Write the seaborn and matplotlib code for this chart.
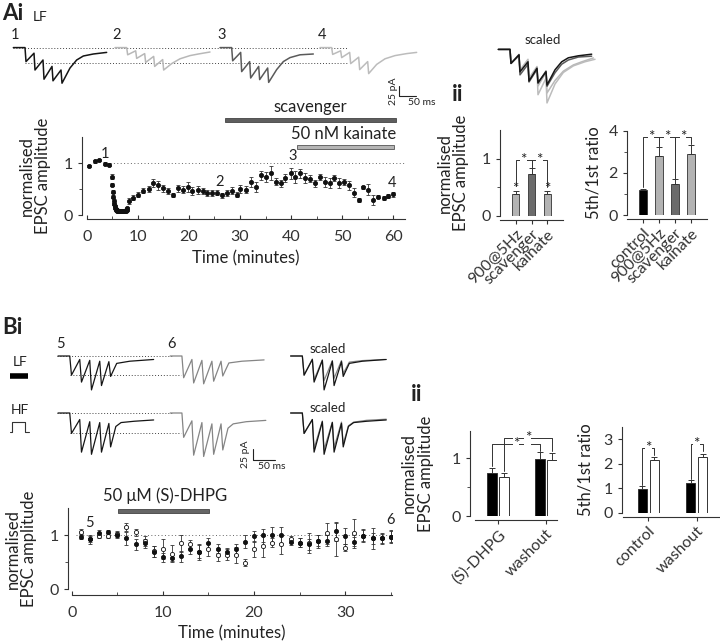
import numpy as np
import pandas as pd
import matplotlib
matplotlib.use('Agg')
import matplotlib.pyplot as plt
from matplotlib.patches import Rectangle
import seaborn as sns

# ---------------- data ----------------
# Ai time course (normalised EPSC amplitude)
base_t = [0.5, 1.6, 2.5, 3.5, 4.4]
base_v = [0.95, 1.03, 1.06, 0.99, 0.97]
base_e = [0.02, 0.03, 0.02, 0.03, 0.03]
stim_t = [4.9, 5.0, 5.1, 5.2, 5.3, 5.4, 5.5, 5.6, 5.7, 5.8, 5.9, 6.0, 6.1, 6.2, 6.3, 6.4,
          6.5, 6.6, 6.7, 6.8, 6.9, 7.0, 7.1, 7.2, 7.3, 7.4, 7.5, 7.6, 7.7, 7.8, 7.9]
stim_v = [0.74, 0.58, 0.45, 0.35, 0.27, 0.22, 0.17, 0.14, 0.12, 0.10, 0.09, 0.08, 0.08, 0.07, 0.07, 0.07,
          0.07, 0.07, 0.07, 0.07, 0.07, 0.07, 0.07, 0.07, 0.07, 0.07, 0.08, 0.08, 0.09, 0.10, 0.13]
stim_e = [0.04, 0.03, 0.03, 0.03, 0.03, 0.02, 0.02, 0.02, 0.02, 0.02, 0.02, 0.02, 0.02, 0.02, 0.02, 0.02,
          0.02, 0.02, 0.02, 0.02, 0.02, 0.02, 0.02, 0.02, 0.02, 0.02, 0.02, 0.02, 0.02, 0.03, 0.03]
post_t = [8.2, 9.1, 10.1, 11.1, 12.1, 13.0, 14.0, 15.0, 16.0, 16.8,
          17.8, 18.8, 19.8, 20.7, 21.7, 22.7, 23.6, 24.6, 25.6, 26.4,
          27.4, 28.4, 29.4, 30.1, 31.1, 32.1, 33.1, 34.1, 35.0, 36.0,
          37.0, 38.0, 38.9, 39.9, 40.8, 41.7, 42.7, 43.7, 44.7, 45.7,
          46.6, 47.6, 48.5, 49.4, 50.4, 51.4, 52.3, 53.3, 54.1, 55.1,
          56.1, 57.1, 58.1, 59.0, 60.0]
post_v = [0.27, 0.33, 0.39, 0.47, 0.50, 0.61, 0.57, 0.51, 0.46, 0.38,
          0.51, 0.49, 0.54, 0.46, 0.48, 0.46, 0.43, 0.43, 0.43, 0.38,
          0.43, 0.47, 0.39, 0.50, 0.49, 0.64, 0.54, 0.76, 0.73, 0.81,
          0.64, 0.61, 0.71, 0.80, 0.73, 0.80, 0.71, 0.70, 0.61, 0.73,
          0.64, 0.61, 0.71, 0.61, 0.64, 0.57, 0.43, 0.29, 0.53, 0.49,
          0.29, 0.35, 0.32, 0.36, 0.40]
post_e = [0.05, 0.05, 0.05, 0.05, 0.05, 0.08, 0.08, 0.07, 0.05, 0.04,
          0.07, 0.06, 0.10, 0.08, 0.08, 0.06, 0.06, 0.06, 0.05, 0.05,
          0.06, 0.06, 0.05, 0.07, 0.07, 0.10, 0.10, 0.09, 0.10, 0.13,
          0.07, 0.07, 0.07, 0.10, 0.12, 0.08, 0.10, 0.07, 0.07, 0.06,
          0.10, 0.10, 0.06, 0.10, 0.06, 0.08, 0.08, 0.04, 0.03, 0.10,
          0.10, 0.03, 0.04, 0.04, 0.05]
scavenger_min = (27.0, 60.5)
kainate_min = (41.1, 60.2)
trace_marks_A = ['1', '2', '3', '4']
trace_marks_A_t = [3.6, 26.1, 40.4, 59.7]
trace_marks_A_v = [1.18, 0.64, 1.13, 0.61]

# Aii bar charts
amp_cats = ['900@5Hz', 'scavenger', 'kainate']
amp_mean = [0.38, 0.73, 0.39]
amp_sem = [0.05, 0.10, 0.04]
ratio_cats = ['control', '900@5Hz', 'scavenger', 'kainate']
ratio_mean = [1.2, 2.8, 1.5, 2.9]
ratio_sem = [0.06, 0.45, 0.20, 0.45]

# Bi time course, LF (filled) and HF (open)
b_t = list(range(1, 36))
lf_v = [0.97, 0.92, 1.04, 1.06, 1.00, 0.94, 0.83, 0.85, 0.69, 0.59,
        0.58, 0.61, 0.74, 0.69, 0.85, 0.75, 0.69, 0.74, 0.88, 0.98,
        1.00, 1.01, 1.00, 0.88, 0.86, 0.83, 0.89, 0.90, 1.07, 0.98,
        0.87, 0.99, 0.94, 0.94, 0.97]
lf_e = [0.05, 0.08, 0.05, 0.04, 0.06, 0.12, 0.10, 0.08, 0.10, 0.08,
        0.06, 0.10, 0.08, 0.12, 0.10, 0.08, 0.07, 0.10, 0.12, 0.10,
        0.12, 0.14, 0.15, 0.06, 0.08, 0.10, 0.12, 0.10, 0.18, 0.15,
        0.10, 0.12, 0.20, 0.08, 0.12]
hf_v = [1.06, 0.93, 0.99, 0.99, 1.02, 1.15, 1.05, 0.89, 0.70, 0.74,
        0.66, 0.85, 0.83, 0.69, 0.74, 0.63, 0.64, 0.63, 0.49, 0.74,
        0.79, 0.86, 0.83, 0.93, 0.86, 0.85, 0.90, 1.03, 0.92, 0.77,
        1.04, 0.99, 0.94, 0.94, 0.97]
hf_e = [0.05, 0.06, 0.04, 0.05, 0.06, 0.08, 0.06, 0.10, 0.10, 0.18,
        0.15, 0.16, 0.08, 0.15, 0.12, 0.10, 0.10, 0.15, 0.06, 0.15,
        0.20, 0.08, 0.18, 0.05, 0.08, 0.18, 0.10, 0.20, 0.30, 0.07,
        0.25, 0.10, 0.10, 0.10, 0.10]
dhpg_min = (5.1, 15.1)

# Bii bar charts
b_amp_cond = ['(S)-DHPG', '(S)-DHPG', 'washout', 'washout']
b_amp_stim = ['LF', 'HF', 'LF', 'HF']
b_amp_mean = [0.75, 0.67, 0.98, 0.96]
b_amp_sem = [0.08, 0.07, 0.12, 0.13]
b_ratio_cond = ['control', 'control', 'washout', 'washout']
b_ratio_stim = ['LF', 'HF', 'LF', 'HF']
b_ratio_mean = [0.98, 2.15, 1.22, 2.28]
b_ratio_sem = [0.10, 0.13, 0.12, 0.13]

# sample EPSC trains (ms, pA); each: peaks, pre-pulse levels, tail
pulse_ms_A = [35, 62, 89, 116, 143]
tr1_peak = [-35, -56, -79, -83, -89]
tr1_pre = [-14, -31, -47, -56]
tr1_tail_ms = [170, 190, 210, 240, 280]
tr1_tail_pA = [-51, -31, -21, -16, -12]
tr2_peak = [-18, -27, -37, -47, -56]
tr2_pre = [-8, -15, -22, -30]
tr2_tail_ms = [170, 195, 225, 250, 285]
tr2_tail_pA = [-40, -28, -20, -16, -11]
tr3_peak = [-33, -60, -76, -80, -87]
tr3_pre = [-12, -35, -47, -51]
tr3_tail_ms = [170, 190, 210, 240, 280]
tr3_tail_pA = [-55, -35, -25, -18, -16]
tr4_peak = [-17, -25, -40, -55, -65]
tr4_pre = [-8, -12, -24, -35]
tr4_tail_ms = [170, 195, 225, 260, 290]
tr4_tail_pA = [-42, -28, -20, -15, -12]

pulse_ms_B = [27, 50, 73, 96, 117]
lf5_peak = [-44, -60, -78, -68, -47]
lf5_pre = [-8, -10, -12, -13]
lf5_tail_ms = [135, 165, 220]
lf5_tail_pA = [-17, -12, -8]
lf6_peak = [-50, -62, -64, -58, -46]
lf6_pre = [-8, -10, -12, -12]
lf6_tail_ms = [135, 165, 216]
lf6_tail_pA = [-16, -12, -9]
hf5_peak = [-47, -90, -95, -90, -78]
hf5_pre = [-15, -20, -22, -24]
hf5_tail_ms = [133, 145, 175, 220]
hf5_tail_pA = [-31, -22, -19, -16]
hf6_peak = [-56, -97, -100, -95, -85]
hf6_pre = [-18, -22, -25, -25]
hf6_tail_ms = [133, 145, 175, 220]
hf6_tail_pA = [-35, -25, -20, -17]

# ---------------- style ----------------
sns.set_style('ticks')
plt.rcParams['font.family'] = ['Lato', 'DejaVu Sans']
plt.rcParams['axes.linewidth'] = 0.8
plt.rcParams['axes.edgecolor'] = '#333333'
plt.rcParams['xtick.major.width'] = 0.8
plt.rcParams['ytick.major.width'] = 0.8
plt.rcParams['xtick.color'] = '#333333'
plt.rcParams['ytick.color'] = '#333333'
plt.rcParams['text.color'] = '#222222'
plt.rcParams['axes.labelcolor'] = '#222222'

LAB = 12      # axis label size
TICK = 11.5   # tick label size

W, H = 720, 643
fig = plt.figure(figsize=(7.2, 6.43), dpi=100)


def px_axes(left, top, right, bottom):
    return fig.add_axes([left / W, 1 - bottom / H, (right - left) / W, (bottom - top) / H])


def px_text(x, y, s, **kw):
    fig.text(x / W, 1 - y / H, s, **kw)


def build_trace(pulses, peaks, pre, tail_ms, tail_pA, rise):
    xs, ys = [0, pulses[0]], [0, 0]
    for i, p in enumerate(pulses):
        xs.append(p + rise)
        ys.append(peaks[i])
        if i < len(pulses) - 1:
            xs.append(pulses[i + 1])
            ys.append(pre[i])
    return np.array(xs + tail_ms, float), np.array(ys + tail_pA, float)


def draw_timecourse(ax, t, v, e, face):
    ax.errorbar(t, v, yerr=e, fmt='none', ecolor='#333333', elinewidth=0.6,
                capsize=1.5, capthick=0.6, zorder=2)
    sns.scatterplot(x=t, y=v, ax=ax, marker='o', s=9, color=face,
                    edgecolor='#111111', linewidth=0.6, zorder=3, legend=False)


def bracket(ax, x1, y1, x2, y2, top):
    ax.plot([x1, x1, x2, x2], [y1, top, top, y2], color='#333333', lw=0.7, clip_on=False)
    ax.text((x1 + x2) / 2, top, '*', ha='center', va='center', fontsize=11,
            bbox=dict(fc='white', ec='none', pad=0.2), clip_on=False)


def upper_err(ax, xs, means, sems):
    ax.errorbar(xs, means, yerr=[np.zeros(len(sems)), sems], fmt='none',
                ecolor='#333333', elinewidth=0.7, capsize=2.2, capthick=0.7, zorder=3)


def style_ts(ax):
    ax.tick_params(axis='x', direction='in', length=3, labelsize=TICK, pad=8)
    ax.tick_params(axis='x', which='minor', direction='in', length=2)
    ax.tick_params(axis='y', length=3, labelsize=TICK)
    ax.tick_params(axis='y', which='minor', length=2)
    ax.set_xlabel('Time (minutes)', fontsize=LAB, labelpad=4)
    ax.set_ylabel('normalised\nEPSC amplitude', fontsize=LAB, labelpad=9, linespacing=1.05)


def style_bars(ax):
    ax.tick_params(axis='y', length=3, labelsize=TICK)
    ax.tick_params(axis='y', which='minor', length=2)
    ax.tick_params(axis='x', length=3, labelsize=TICK, pad=2)
    plt.setp(ax.get_xticklabels(), rotation=45, ha='right', rotation_mode='anchor')


# ---------------- Ai traces ----------------
ax_tr = px_axes(0, 30, 440, 110)
ax_tr.set_xlim(-40, 1280)
ax_tr.set_ylim(-156, 44)
ax_tr.axis('off')
offsets_A = [0, 305, 620, 920]
traces_A = [
    (tr1_peak, tr1_pre, tr1_tail_ms, tr1_tail_pA, '#151515'),
    (tr2_peak, tr2_pre, tr2_tail_ms, tr2_tail_pA, '#b8b8b8'),
    (tr3_peak, tr3_pre, tr3_tail_ms, tr3_tail_pA, '#5a5a5a'),
    (tr4_peak, tr4_pre, tr4_tail_ms, tr4_tail_pA, '#bcbcbc'),
]
ax_tr.plot([0, 1005], [0, 0], ls=(0, (1, 2)), color='#444444', lw=0.7)
ax_tr.plot([35, 1005], [tr1_peak[0] - 4, tr1_peak[0] - 4], ls=(0, (1, 2)), color='#444444', lw=0.7)
for (pk, pr, tm, tp, col), off, lab in zip(traces_A, offsets_A, trace_marks_A):
    xs, ys = build_trace(pulse_ms_A, pk, pr, tm, tp, 3)
    ax_tr.plot(xs + off, ys, color=col, lw=1.1)
    ax_tr.text(off + 5, 14, lab, fontsize=10.5, ha='center', va='bottom')
# scale bar
ax_tr.plot([1158, 1158, 1208], [-95, -120, -120], color='#222222', lw=0.8)
ax_tr.text(1140, -108, '25 pA', rotation=90, fontsize=7.5, ha='center', va='center')
ax_tr.text(1185, -126, '50 ms', fontsize=7.5, ha='left', va='top')

# scaled overlay
ax_sc = px_axes(495, 35, 600, 125)
ax_sc.set_xlim(-10, 305)
ax_sc.set_ylim(-189, 36)
ax_sc.axis('off')
for (pk, pr, tm, tp, col), z in zip([traces_A[1], traces_A[3], traces_A[2], traces_A[0]], [1, 2, 3, 4]):
    xs, ys = build_trace(pulse_ms_A, pk, pr, tm, tp, 3)
    ax_sc.plot(xs, ys * tr1_peak[0] / pk[0], color=col, lw=1.1, zorder=z)

# ---------------- Ai time course ----------------
ax_a = px_axes(86.7, 137, 405, 215)
draw_timecourse(ax_a, base_t + stim_t + post_t, base_v + stim_v + post_v,
                base_e + stim_e + post_e, '#111111')
ax_a.set_xlim(0, 62.3)
ax_a.set_ylim(0, 1.5)
ax_a.axhline(1, xmin=4.5 / 62.3, xmax=1, ls=(0, (1, 2.5)), color='#666666', lw=0.7)
ax_a.set_xticks(range(0, 61, 10))
ax_a.set_xticks(range(5, 61, 10), minor=True)
ax_a.set_yticks([0, 1])
ax_a.set_yticks([0.5], minor=True)
style_ts(ax_a)
sns.despine(ax=ax_a, offset={'left': 3.4, 'bottom': 3})
for lab, tt, vv in zip(trace_marks_A, trace_marks_A_t, trace_marks_A_v):
    ax_a.text(tt, vv, lab, fontsize=10.5, ha='center', va='center')
ax_a.add_patch(Rectangle((scavenger_min[0], 1.79), scavenger_min[1] - scavenger_min[0], 0.08,
                         fc='#5e5e5e', ec='#444444', lw=0.6, clip_on=False))
ax_a.text(sum(scavenger_min) / 2, 2.08, 'scavenger', fontsize=12, ha='center', va='center')
ax_a.add_patch(Rectangle((kainate_min[0], 1.27), kainate_min[1] - kainate_min[0], 0.08,
                         fc='#b5b5b5', ec='#555555', lw=0.6, clip_on=False))
ax_a.text(sum(kainate_min) / 2 - 0.3, 1.56, '50 nM kainate', fontsize=12, ha='center', va='center')

# ---------------- Aii bars ----------------
ax_b1 = px_axes(500, 130, 563, 216)
sns.barplot(x=amp_cats, y=amp_mean, hue=amp_cats, palette=['#b3b3b3', '#6b6b6b', '#b3b3b3'],
            legend=False, width=0.45, edgecolor='#333333', linewidth=0.6, ax=ax_b1)
upper_err(ax_b1, range(3), amp_mean, amp_sem)
ax_b1.set_xlim(-1, 3)
ax_b1.set_ylim(0, 1.5)
ax_b1.set_yticks([0, 1])
ax_b1.set_yticks([0.5], minor=True)
tops = [m + s for m, s in zip(amp_mean, amp_sem)]
bracket(ax_b1, 0, tops[0] + 0.1, 1, tops[1] + 0.03, 0.98)
bracket(ax_b1, 1, tops[1] + 0.03, 2, tops[2] + 0.08, 0.98)
for i in [0, 2]:
    ax_b1.text(i, tops[i] + 0.04, '*', ha='center', va='center', fontsize=11)
ax_b1.set_ylabel('normalised\nEPSC amplitude', fontsize=LAB, labelpad=9, linespacing=1.05)

ax_b2 = px_axes(627, 131, 707, 215)
sns.barplot(x=ratio_cats, y=ratio_mean, hue=ratio_cats,
            palette=['#000000', '#b3b3b3', '#6b6b6b', '#b3b3b3'],
            legend=False, width=0.45, edgecolor='#333333', linewidth=0.6, ax=ax_b2)
upper_err(ax_b2, range(4), ratio_mean, ratio_sem)
ax_b2.set_xlim(-1, 4)
ax_b2.set_ylim(0, 4)
ax_b2.set_yticks([0, 2, 4])
ax_b2.set_yticks([1, 3], minor=True)
tops = [m + s for m, s in zip(ratio_mean, ratio_sem)]
bracket(ax_b2, 0, tops[0] + 0.05, 1, tops[1] + 0.05, 3.7)
bracket(ax_b2, 1, tops[1] + 0.05, 2, tops[2] + 0.05, 3.7)
bracket(ax_b2, 2, tops[2] + 0.05, 3, tops[3] + 0.05, 3.7)
ax_b2.set_ylabel('5th/1st ratio', fontsize=LAB, labelpad=5)

for ax in [ax_b1, ax_b2]:
    sns.despine(ax=ax, offset={'bottom': 3})
    style_bars(ax)

# ---------------- Bi traces ----------------
offsets_B = [0, 258, 535]
for top, bottom, ylo, base, rows in [
        (338, 398, -96.6, 356, [(lf5_peak, lf5_pre, lf5_tail_ms, lf5_tail_pA),
                                (lf6_peak, lf6_pre, lf6_tail_ms, lf6_tail_pA)]),
        (395, 472, -135.7, 413, [(hf5_peak, hf5_pre, hf5_tail_ms, hf5_tail_pA),
                                 (hf6_peak, hf6_pre, hf6_tail_ms, hf6_tail_pA)])]:
    axr = px_axes(40, top, 400, bottom)
    axr.set_xlim(-41.4, 786.6)
    axr.set_ylim(ylo, (base - top) * 2.3)
    axr.axis('off')
    first = rows[0][0][0]
    axr.plot([-3, 262], [0, 0], ls=(0, (1, 2)), color='#444444', lw=0.7)
    axr.plot([27, 283], [first, first], ls=(0, (1, 2)), color='#444444', lw=0.7)
    traces = [build_trace(pulse_ms_B, pk, pr, tm, tp, 4) for pk, pr, tm, tp in rows]
    axr.plot(traces[0][0] + offsets_B[0], traces[0][1], color='#151515', lw=0.9)
    axr.plot(traces[1][0] + offsets_B[1], traces[1][1], color='#858585', lw=0.9)
    axr.plot(traces[1][0] + offsets_B[2], traces[1][1] * first / rows[1][0][0], color='#858585', lw=0.9)
    axr.plot(traces[0][0] + offsets_B[2], traces[0][1], color='#151515', lw=0.9)
    if top == 338:
        axr.text(5, 12, '5', fontsize=10.5, ha='center', va='bottom')
        axr.text(261, 12, '6', fontsize=10.5, ha='center', va='bottom')
    else:
        axr.plot([448, 448, 498], [-83, -108, -108], color='#222222', lw=0.8)
        axr.text(432, -95, '25 pA', rotation=90, fontsize=7.5, ha='center', va='center')
        axr.text(460, -113, '50 ms', fontsize=7.5, ha='left', va='top')

# ---------------- Bi time course ----------------
ax_c = px_axes(71.7, 508, 391.7, 589.3)
draw_timecourse(ax_c, b_t, hf_v, hf_e, 'white')
draw_timecourse(ax_c, b_t, lf_v, lf_e, '#111111')
ax_c.set_xlim(0, 35.1)
ax_c.set_ylim(0, 1.5)
ax_c.axhline(1, xmin=0.5 / 35.1, xmax=1, ls=(0, (1, 2.5)), color='#666666', lw=0.7, zorder=1)
ax_c.set_xticks([0, 10, 20, 30])
ax_c.set_xticks([5, 15, 25, 35], minor=True)
ax_c.set_yticks([0, 1])
ax_c.set_yticks([0.5], minor=True)
style_ts(ax_c)
sns.despine(ax=ax_c, offset={'left': 2.7, 'bottom': 4})
ax_c.text(2, 1.22, '5', fontsize=10.5, ha='center', va='center')
ax_c.text(35, 1.27, '6', fontsize=10.5, ha='center', va='center')
ax_c.add_patch(Rectangle((dhpg_min[0], 1.41), dhpg_min[1] - dhpg_min[0], 0.08,
                         fc='#666666', ec='#444444', lw=0.6, clip_on=False))
ax_c.text(10.2, 1.73, '50 \u03bcM (S)-DHPG', fontsize=12, ha='center', va='center')

# ---------------- Bii bars ----------------
stim_pal = {'LF': '#000000', 'HF': '#ffffff'}
ax_d1 = px_axes(475, 431, 557, 516)
sns.barplot(x=b_amp_cond, y=b_amp_mean, hue=b_amp_stim, palette=stim_pal, legend=False,
            width=0.5, gap=0.24, edgecolor='#333333', linewidth=0.7, ax=ax_d1)
ax_d1.set_xlim(-0.48, 1.23)
ax_d1.set_ylim(0, 1.47)
ax_d1.set_yticks([0, 1])
ax_d1.set_yticks([0.5], minor=True)
ax_d1.set_ylabel('normalised\nEPSC amplitude', fontsize=LAB, labelpad=13, linespacing=1.05)

ax_d2 = px_axes(623, 427, 720, 513)
sns.barplot(x=b_ratio_cond, y=b_ratio_mean, hue=b_ratio_stim, palette=stim_pal, legend=False,
            width=0.5, gap=0.24, edgecolor='#333333', linewidth=0.7, ax=ax_d2)
ax_d2.set_xlim(-0.52, 1.48)
ax_d2.set_ylim(0, 3.5)
ax_d2.set_yticks([0, 1, 2, 3])
ax_d2.set_ylabel('5th/1st ratio', fontsize=LAB, labelpad=7)

for ax, means, sems in [(ax_d1, b_amp_mean, b_amp_sem), (ax_d2, b_ratio_mean, b_ratio_sem)]:
    centers = {}
    for stim, cont in zip(['LF', 'HF'], ax.containers):
        for k, bar in enumerate(cont):
            centers[(k, stim)] = bar.get_x() + bar.get_width() / 2
    xs = [centers[(0, 'LF')], centers[(0, 'HF')], centers[(1, 'LF')], centers[(1, 'HF')]]
    upper_err(ax, xs, means, sems)
    tops = [m + s for m, s in zip(means, sems)]
    if ax is ax_d1:
        bracket(ax, xs[0], tops[0] + 0.03, xs[2], tops[2] + 0.03, 1.25)
        bracket(ax, xs[1], tops[1] + 0.03, xs[3], tops[3] + 0.03, 1.35)
        sns.despine(ax=ax, offset={'left': 3.6, 'bottom': 3})
    else:
        bracket(ax, xs[0], tops[0] + 0.05, xs[1], tops[1] + 0.1, 2.64)
        bracket(ax, xs[2], tops[2] + 0.05, xs[3], tops[3] + 0.1, 2.82)
        sns.despine(ax=ax, offset={'left': 1, 'bottom': 3})
    style_bars(ax)

# ---------------- panel labels ----------------
px_text(2, 20, 'Ai', fontsize=16, fontweight='bold')
px_text(33, 21, 'LF', fontsize=10)
px_text(543, 44, 'scaled', fontsize=9.5, ha='center')
px_text(452, 101, 'ii', fontsize=16, fontweight='bold')
px_text(2, 334, 'Bi', fontsize=16, fontweight='bold')
px_text(20, 366, 'LF', fontsize=10, ha='center')
px_text(20, 414, 'HF', fontsize=10, ha='center')
px_text(328, 353, 'scaled', fontsize=9.5, ha='center')
px_text(328, 412, 'scaled', fontsize=9.5, ha='center')
px_text(411, 401, 'ii', fontsize=16, fontweight='bold')
fig.add_artist(plt.Line2D([10 / W, 28 / W], [1 - 376 / H, 1 - 376 / H], color='black', lw=4,
                          solid_capstyle='butt'))
fig.add_artist(plt.Line2D([x / W for x in [10, 12, 12, 25, 25, 29]],
                          [1 - y / H for y in [432, 432, 422, 422, 432, 432]],
                          color='#333333', lw=0.8))

fig.savefig('out.png', dpi=100)
